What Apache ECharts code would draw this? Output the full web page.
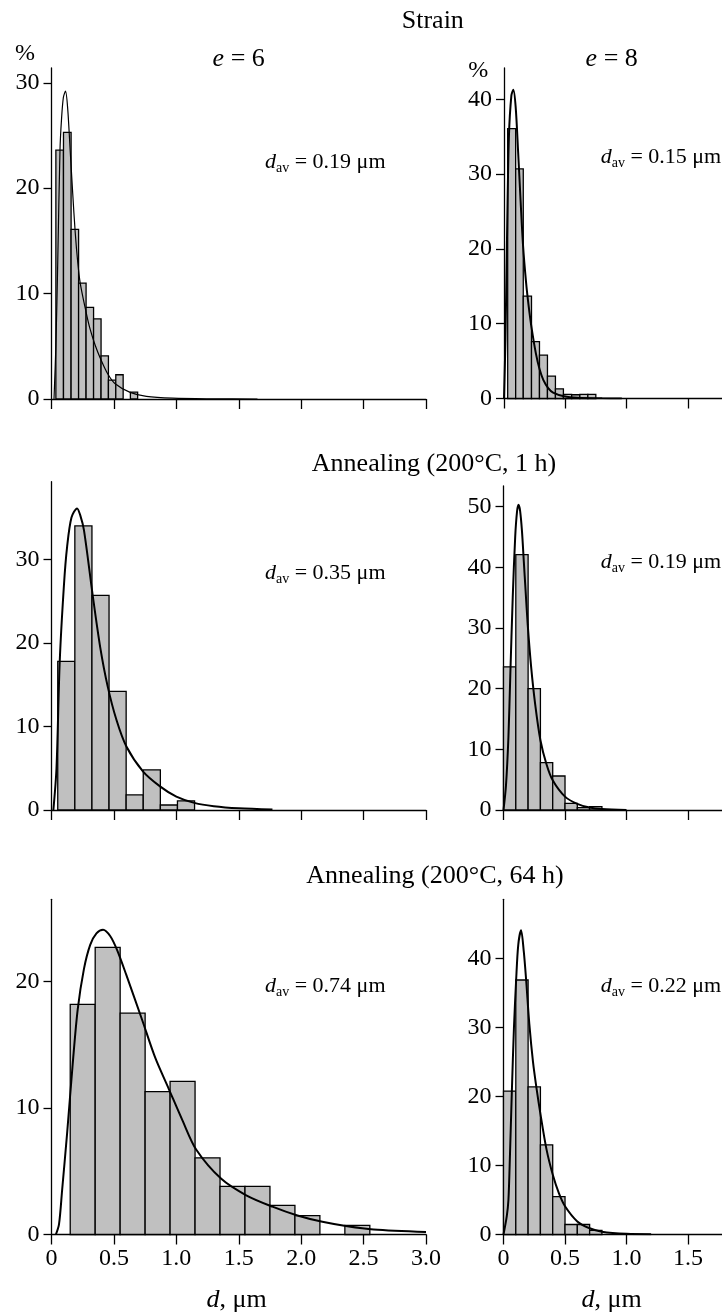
<!DOCTYPE html>
<html>
<head>
<meta charset="utf-8">
<script src="https://cdn.jsdelivr.net/npm/echarts@6/dist/echarts.min.js"></script>
<style>
  html, body { margin: 0; padding: 0; background: #fff; }
  #chart { width: 722px; height: 1315px; }
</style>
</head>
<body>
<div id="chart"></div>
<script>
// bin edges (µm) and percentages per panel
var p1Edges = [0.035, 0.096, 0.157, 0.217, 0.277, 0.337, 0.397, 0.456, 0.515, 0.574, 0.632, 0.69];
var p1Values = [23.6, 25.3, 16.1, 11.0, 8.7, 7.6, 4.1, 1.8, 2.3, 0, 0.66];
var p2Edges = [0.03, 0.095, 0.157, 0.224, 0.289, 0.354, 0.419, 0.484, 0.551, 0.618, 0.683, 0.748];
var p2Values = [36.1, 30.7, 13.7, 7.6, 5.8, 3.0, 1.3, 0.54, 0.5, 0.54, 0.54];
var p3Edges = [0.05, 0.187, 0.324, 0.461, 0.598, 0.735, 0.872, 1.009, 1.146];
var p3Values = [17.8, 34.0, 25.7, 14.2, 1.8, 4.8, 0.6, 1.1];
var p4Edges = [0, 0.1, 0.2, 0.3, 0.4, 0.5, 0.6, 0.7, 0.8];
var p4Values = [23.6, 42.1, 20.0, 7.8, 5.6, 1.1, 0.4, 0.55];
var p5Edges = [0.15, 0.35, 0.55, 0.75, 0.95, 1.15, 1.35, 1.55, 1.75, 1.95, 2.15, 2.35, 2.55];
var p5Values = [18.2, 22.7, 17.5, 11.3, 12.1, 6.06, 3.8, 3.8, 2.3, 1.5, 0, 0.72];
var p6Edges = [0, 0.1, 0.2, 0.3, 0.4, 0.5, 0.6, 0.7, 0.8];
var p6Values = [20.8, 36.9, 21.4, 13.0, 5.5, 1.45, 1.45, 0.6];

// fitted curves
var p1Curve = [[0.02,0],[0.035,5],[0.05,13],[0.068,23.6],[0.08,26.5],[0.095,28.6],[0.112,29.2],[0.13,27.5],[0.15,23.5],[0.17,19.5],[0.19,15.8],[0.21,13],[0.23,11],[0.276,8.3],[0.31,6.6],[0.35,5.1],[0.39,3.9],[0.45,2.4],[0.51,1.45],[0.63,0.63],[0.76,0.25],[0.97,0.08],[1.3,0.02],[1.65,0]];
var p2Curve = [[0,0],[0.012,8],[0.025,22],[0.04,35],[0.06,40.5],[0.076,41.3],[0.095,39],[0.115,33],[0.135,26.5],[0.155,20.5],[0.18,15.5],[0.2,12.5],[0.225,9.4],[0.26,6.0],[0.29,3.9],[0.32,2.5],[0.36,1.4],[0.4,0.8],[0.49,0.3],[0.6,0.1],[0.8,0.03],[0.96,0]];
var p3Curve = [[0.015,0],[0.04,5],[0.066,17.8],[0.1,27],[0.125,31.5],[0.16,35],[0.205,36.1],[0.23,35.3],[0.26,33.5],[0.33,25.7],[0.39,19.5],[0.45,14.8],[0.52,10.8],[0.6,7.6],[0.734,4.6],[0.872,2.8],[1.0,1.6],[1.144,0.85],[1.3,0.45],[1.5,0.2],[1.77,0.05]];
var p4Curve = [[0,0],[0.02,4],[0.04,12],[0.055,22],[0.075,35],[0.095,45],[0.11,49.2],[0.122,50.3],[0.135,49.3],[0.15,46],[0.165,41],[0.18,36],[0.197,30.5],[0.225,23.5],[0.257,17.5],[0.3,11.5],[0.35,7.5],[0.4,4.9],[0.5,2.2],[0.6,1.0],[0.7,0.4],[0.8,0.15],[1.0,0]];
var p5Curve = [[0.035,0],[0.06,0.8],[0.085,3.5],[0.125,8],[0.17,13.5],[0.21,17.8],[0.26,21],[0.31,22.9],[0.36,23.8],[0.413,24.1],[0.47,23.6],[0.525,22.5],[0.6,20.5],[0.725,17.0],[0.83,14],[0.94,11.5],[1.05,9.0],[1.16,6.7],[1.36,4.4],[1.56,3.1],[1.77,2.2],[1.97,1.5],[2.17,1.0],[2.37,0.65],[2.58,0.4],[3.0,0.2]];
var p6Curve = [[0,0],[0.027,2.7],[0.04,5],[0.05,10],[0.068,20.8],[0.085,30],[0.103,37],[0.12,42],[0.143,44.1],[0.165,41],[0.184,36.9],[0.21,30.5],[0.24,25],[0.27,21],[0.3,17.5],[0.35,12.3],[0.4,8.7],[0.45,6.0],[0.5,4.1],[0.6,1.9],[0.7,0.9],[0.8,0.4],[1.0,0.1],[1.2,0.05]];

// tick values
var leftXTicks = [0, 0.5, 1.0, 1.5, 2.0, 2.5, 3.0];
var rightXTicks = [0, 0.5, 1.0, 1.5];
var p1YTicks = [0, 10, 20, 30];
var p2YTicks = [0, 10, 20, 30, 40];
var p3YTicks = [0, 10, 20, 30];
var p4YTicks = [0, 10, 20, 30, 40, 50];
var p5YTicks = [0, 10, 20];
var p6YTicks = [0, 10, 20, 30, 40];

var dAvLabels = ['0.19', '0.15', '0.35', '0.19', '0.74', '0.22'];

var FONT = '"Liberation Serif", "DejaVu Serif", serif';

var panels = [
  {edges: p1Edges, values: p1Values, curve: p1Curve, xTicks: leftXTicks, yTicks: p1YTicks, xMax: 3.0, yMax: 31.4, grid: {left: 51.5, top: 68, width: 374.5, height: 331}, curveWidth: 1.2, xLabels: false},
  {edges: p2Edges, values: p2Values, curve: p2Curve, xTicks: rightXTicks, yTicks: p2YTicks, xMax: 1.776, yMax: 44.2, grid: {left: 504, top: 68, width: 218.5, height: 330.5}, curveWidth: 2, xLabels: false},
  {edges: p3Edges, values: p3Values, curve: p3Curve, xTicks: leftXTicks, yTicks: p3YTicks, xMax: 3.0, yMax: 39.3, grid: {left: 51.5, top: 481.7, width: 374.5, height: 328.3}, curveWidth: 2, xLabels: false},
  {edges: p4Edges, values: p4Values, curve: p4Curve, xTicks: rightXTicks, yTicks: p4YTicks, xMax: 1.776, yMax: 53.4, grid: {left: 503.5, top: 486, width: 218.5, height: 324}, curveWidth: 2, xLabels: false},
  {edges: p5Edges, values: p5Values, curve: p5Curve, xTicks: leftXTicks, yTicks: p5YTicks, xMax: 3.0, yMax: 26.5, grid: {left: 51.5, top: 899.3, width: 374.5, height: 335.2}, curveWidth: 2, xLabels: true},
  {edges: p6Edges, values: p6Values, curve: p6Curve, xTicks: rightXTicks, yTicks: p6YTicks, xMax: 1.776, yMax: 48.6, grid: {left: 503.5, top: 899.3, width: 218.5, height: 335.2}, curveWidth: 2, xLabels: true}
];

var chart = echarts.init(document.getElementById('chart'), null, {renderer: 'canvas'});

var axisLine = {lineStyle: {color: '#000', width: 1.3}};
var tickStyle = {color: '#000', width: 1.3};

var grids = [], xAxes = [], yAxes = [], series = [];

panels.forEach(function (p, i) {
  grids.push(Object.assign({containLabel: false}, p.grid));
  xAxes.push({
    gridIndex: i, type: 'value', min: 0, max: p.xMax,
    axisLine: axisLine,
    axisTick: {length: 10, customValues: p.xTicks, lineStyle: tickStyle},
    axisLabel: {
      show: p.xLabels, customValues: p.xTicks, margin: 12,
      color: '#000', fontFamily: FONT, fontSize: 24,
      formatter: function (v) { return v === 0 ? '0' : v.toFixed(1); }
    },
    splitLine: {show: false}
  });
  yAxes.push({
    gridIndex: i, type: 'value', min: 0, max: p.yMax,
    axisLine: axisLine,
    axisTick: {length: 8, customValues: p.yTicks, lineStyle: tickStyle},
    axisLabel: {customValues: p.yTicks, margin: 12, color: '#000', fontFamily: FONT, fontSize: 24},
    splitLine: {show: false}
  });

  var bins = [];
  for (var k = 0; k < p.values.length; k++) {
    if (p.values[k] > 0) bins.push([p.edges[k], p.edges[k + 1], p.values[k]]);
  }
  series.push({
    type: 'custom', xAxisIndex: i, yAxisIndex: i,
    encode: {x: [0, 1], y: 2},
    data: bins,
    renderItem: function (params, api) {
      var a = api.coord([api.value(0), api.value(2)]);
      var b = api.coord([api.value(1), 0]);
      return {
        type: 'rect',
        shape: {x: a[0], y: a[1], width: b[0] - a[0], height: b[1] - a[1]},
        style: {fill: '#c0c0c0', stroke: '#000', lineWidth: 1.3}
      };
    },
    silent: true, z: 2
  });
  series.push({
    type: 'line', xAxisIndex: i, yAxisIndex: i,
    data: p.curve, smooth: 0.3,
    showSymbol: false, symbol: 'none',
    lineStyle: {color: '#000', width: p.curveWidth},
    silent: true, z: 3
  });
});

function plain(text, x, y, size, align) {
  return {type: 'text', x: x, y: y, silent: true,
    style: {text: text, fill: '#000', font: size + 'px ' + FONT, align: align || 'center', verticalAlign: 'middle'}};
}

function richText(text, x, y, align, rich) {
  return {type: 'text', x: x, y: y, silent: true,
    style: {text: text, fill: '#000', align: align, verticalAlign: 'middle', rich: rich}};
}

var dAvRich = {
  i: {fontFamily: FONT, fontSize: 22, fontStyle: 'italic', lineHeight: 26, fill: '#000'},
  s: {fontFamily: FONT, fontSize: 14, lineHeight: 14, verticalAlign: 'bottom', fill: '#000'},
  n: {fontFamily: FONT, fontSize: 22, lineHeight: 26, fill: '#000'}
};
var bigRich = {
  i: {fontFamily: FONT, fontSize: 26, fontStyle: 'italic', fill: '#000'},
  n: {fontFamily: FONT, fontSize: 26, fill: '#000'}
};

var dAvPos = [[265, 162.3], [600.7, 157.3], [265, 573.3], [600.7, 562.7], [265, 986.7], [600.7, 986.7]];

var graphics = [
  plain('Strain', 432.8, 21.3, 26),
  plain('Annealing (200°C, 1 h)', 434, 464.5, 26),
  plain('Annealing (200°C, 64 h)', 435, 876, 26),
  plain('%', 25, 54, 24),
  plain('%', 478.3, 70.8, 24),
  richText('{i|e}{n| = 6}', 238.7, 59.5, 'center', bigRich),
  richText('{i|e}{n| = 8}', 611.7, 59.5, 'center', bigRich),
  richText('{i|d}{n|, μm}', 236.7, 1300, 'center', bigRich),
  richText('{i|d}{n|, μm}', 611.7, 1300, 'center', bigRich)
];
dAvLabels.forEach(function (v, i) {
  graphics.push(richText('{i|d}{s|av}{n| = ' + v + ' μm}', dAvPos[i][0], dAvPos[i][1], 'left', dAvRich));
});

chart.setOption({
  animation: false,
  backgroundColor: '#fff',
  grid: grids,
  xAxis: xAxes,
  yAxis: yAxes,
  series: series,
  graphic: graphics
});
</script>
</body>
</html>
